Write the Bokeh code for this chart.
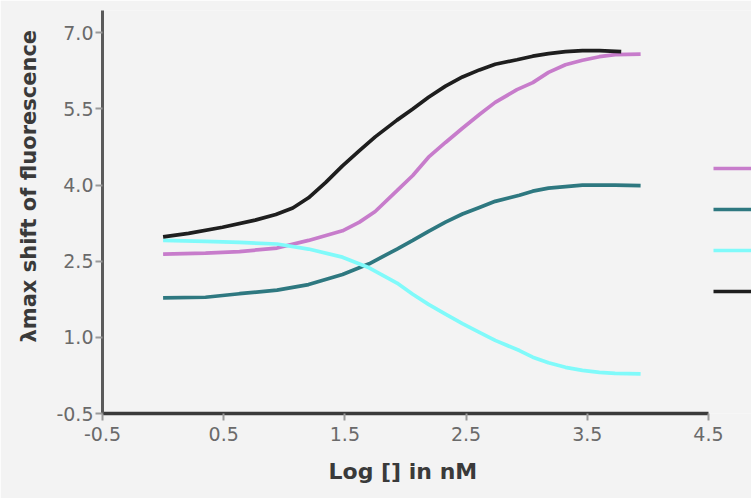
from bokeh.plotting import figure
from bokeh.models import FixedTicker, Legend, LegendItem, Range1d, NumeralTickFormatter, Title
from bokeh.embed import file_html
from bokeh.resources import INLINE

# ---- data ----
x_pink = [0.0, 0.35, 0.63, 0.94, 1.20, 1.48, 1.62, 1.75, 1.93, 2.06, 2.19, 2.33, 2.47, 2.61, 2.74,
          2.92, 3.05, 3.18, 3.32, 3.46, 3.60, 3.73, 3.94]
y_pink = [2.64, 2.66, 2.69, 2.76, 2.91, 3.10, 3.27, 3.48, 3.89, 4.19, 4.55, 4.84, 5.12, 5.39, 5.63,
          5.88, 6.02, 6.22, 6.37, 6.46, 6.53, 6.57, 6.58]

x_teal = [0.0, 0.35, 0.63, 0.94, 1.20, 1.48, 1.70, 1.93, 2.06, 2.19, 2.33, 2.47, 2.61, 2.74, 2.94,
          3.05, 3.18, 3.32, 3.46, 3.73, 3.94]
y_teal = [1.78, 1.79, 1.86, 1.93, 2.04, 2.24, 2.45, 2.74, 2.91, 3.09, 3.27, 3.43, 3.56, 3.68, 3.80,
          3.88, 3.94, 3.97, 4.00, 4.00, 3.99]

x_cyan = [0.0, 0.35, 0.63, 0.94, 1.20, 1.48, 1.70, 1.93, 2.06, 2.19, 2.33, 2.47, 2.61, 2.74, 2.94,
          3.05, 3.18, 3.32, 3.46, 3.60, 3.73, 3.94]
y_cyan = [2.91, 2.89, 2.87, 2.84, 2.74, 2.58, 2.37, 2.07, 1.85, 1.65, 1.46, 1.27, 1.10, 0.94, 0.74,
          0.61, 0.50, 0.41, 0.35, 0.31, 0.29, 0.28]

x_black = [0.0, 0.21, 0.49, 0.76, 0.93, 1.07, 1.20, 1.34, 1.48, 1.62, 1.75, 1.93, 2.06, 2.19, 2.33,
           2.47, 2.61, 2.74, 2.92, 3.05, 3.18, 3.32, 3.46, 3.60, 3.78]
y_black = [2.98, 3.05, 3.17, 3.31, 3.42, 3.55, 3.75, 4.05, 4.38, 4.68, 4.95, 5.28, 5.50, 5.73, 5.95,
           6.13, 6.27, 6.38, 6.47, 6.54, 6.59, 6.63, 6.65, 6.65, 6.63]

x_ticks = [-0.5, 0.5, 1.5, 2.5, 3.5, 4.5]
y_ticks = [-0.5, 1.0, 2.5, 4.0, 5.5, 7.0]

x_title = "Log [] in nM"
y_title = "λmax shift of fluorescence"

BG = "#f3f3f3"

# frame runs to the right page edge so the legend strip (cut at the edge) fits inside it;
# the x axis itself is bounded to [-0.5, 4.5]
p = figure(width=751, height=498, output_backend="svg", toolbar_location=None,
           x_range=Range1d(-0.5, 4.855), y_range=Range1d(-0.5, 7.44),
           background_fill_color=BG, border_fill_color=BG,
           min_border_left=102, min_border_top=10, min_border_right=0, min_border_bottom=85)
p.outline_line_color = None
p.grid.visible = False

r_pink = p.line(x_pink, y_pink, line_color="#c77ccb", line_width=3.7)
r_teal = p.line(x_teal, y_teal, line_color="#2e7880", line_width=3.7)
r_cyan = p.line(x_cyan, y_cyan, line_color="#80fafa", line_width=3.7)
r_black = p.line(x_black, y_black, line_color="#1e1e1e", line_width=3.7)

for ax in (p.xaxis[0], p.yaxis[0]):
    ax.axis_line_width = 3
    ax.axis_line_color = "#5a5a5a"
    ax.major_tick_line_color = "#9a9a9a"
    ax.major_tick_line_width = 2
    ax.major_tick_in = 0
    ax.major_tick_out = 7
    ax.minor_tick_line_color = None
    ax.major_label_text_font = "DejaVu Sans"
    ax.major_label_text_font_size = "19px"
    ax.major_label_text_color = "#6a6a6a"
    ax.formatter = NumeralTickFormatter(format="0.0")

p.xaxis[0].ticker = FixedTicker(ticks=x_ticks)
p.yaxis[0].ticker = FixedTicker(ticks=y_ticks)
p.xaxis[0].bounds = (-0.5, 4.5)
p.xaxis[0].axis_line_color = "#3a3a3a"
p.xaxis[0].axis_line_width = 3.5
p.xaxis[0].major_label_standoff = 6
p.yaxis[0].major_label_standoff = 2

# axis titles as Title models so they can be placed like the reference
xt = Title(text=x_title, align="left", offset=226, standoff=27,
           text_font="DejaVu Sans", text_font_size="22px", text_font_style="bold",
           text_color="#3a3a3a")
p.add_layout(xt, "below")
yt = Title(text=y_title, align="left", offset=71, standoff=26,
           text_font="DejaVu Sans", text_font_size="21px", text_font_style="bold",
           text_color="#3a3a3a")
p.add_layout(yt, "left")

legend = Legend(items=[LegendItem(label=" ", renderers=[r]) for r in (r_pink, r_teal, r_cyan, r_black)],
                location=(611, 112), glyph_width=40, glyph_height=20, label_height=20, label_width=0,
                spacing=21, padding=0, margin=0, border_line_color=None,
                background_fill_alpha=0, label_standoff=0, label_text_font_size="8px")
p.add_layout(legend)

open("out.html", "w").write(file_html(p, INLINE))
